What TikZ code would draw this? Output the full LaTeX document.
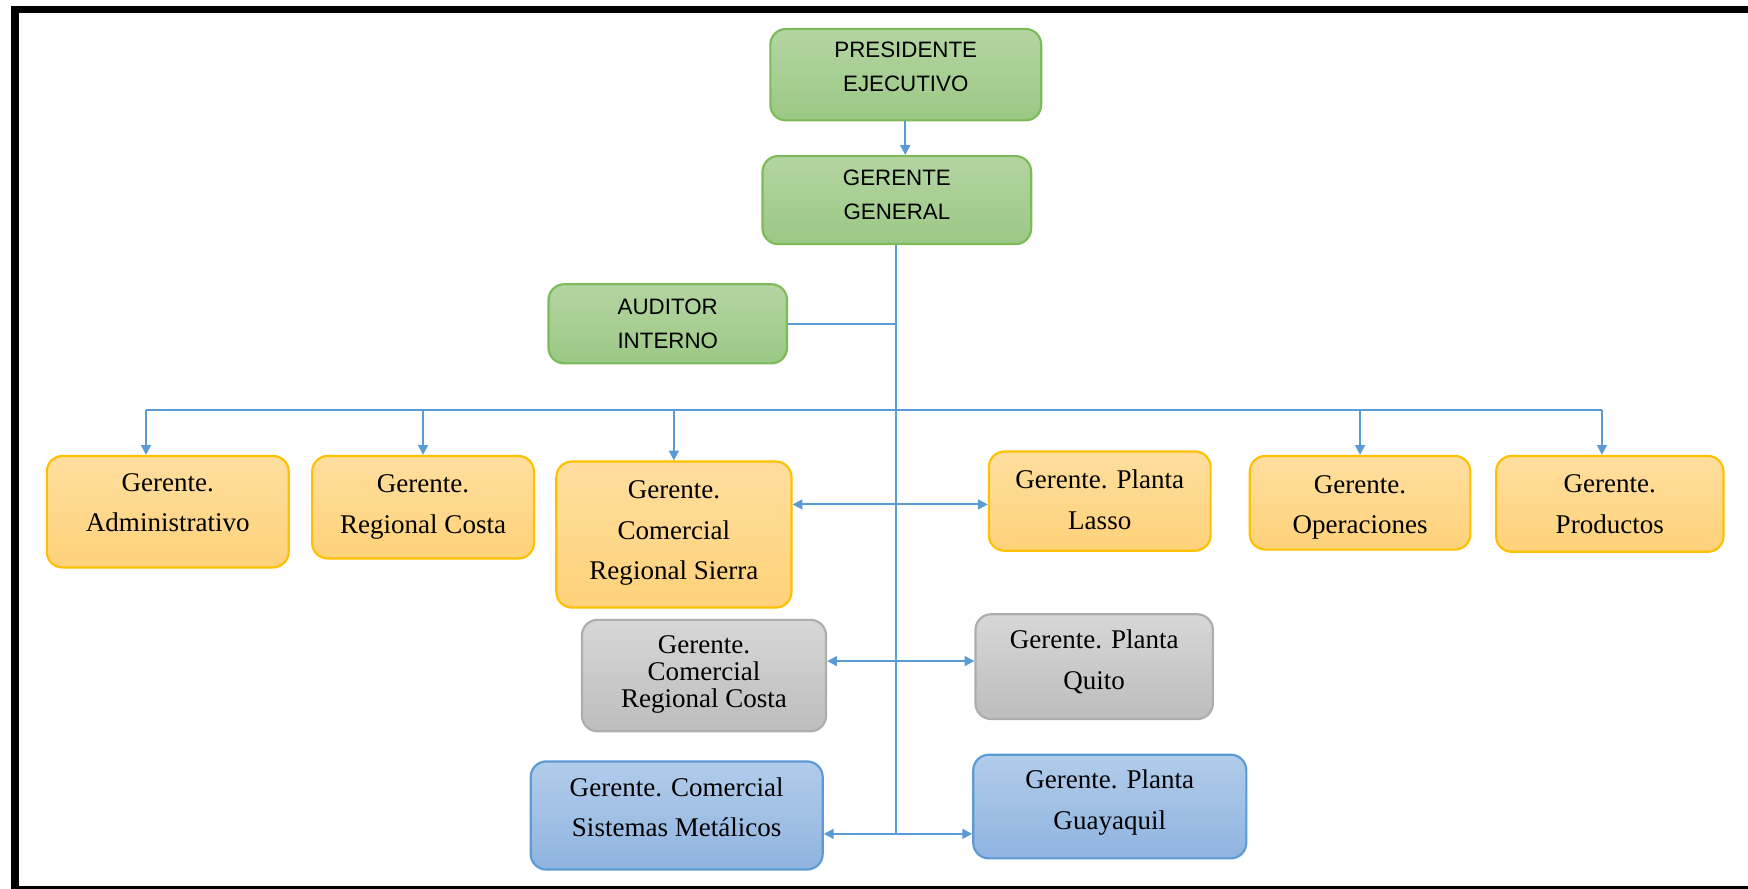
\documentclass[tikz,border=0pt]{standalone}
\usepackage{fontspec}
\setmainfont{Liberation Serif}
\newfontfamily\arialfont{Liberation Sans}
\usetikzlibrary{arrows.meta}
\newcommand{\lineas}[2][0pt]{\raisebox{#1}[0pt][0pt]{\begin{tabular}{@{}c@{}}#2\end{tabular}}}

\begin{document}
\begin{tikzpicture}[x=0.02cm,y=-0.02cm,
	caja/.style={rounded corners=0.28cm,line width=1.1pt,inner sep=0pt},
	verde/.style={caja,draw=bordeverde,top color=verdearriba,bottom color=verdeabajo,font=\arialfont\fontsize{11.4}{17.6}\selectfont},
	naranja/.style={caja,draw=bordenaranja,top color=naranjaarriba,bottom color=naranjaabajo,font=\fontsize{13.8}{20.8}\selectfont},
	gris/.style={caja,draw=bordegris,top color=grisarriba,bottom color=grisabajo,font=\fontsize{13.8}{20.8}\selectfont},
	azul/.style={caja,draw=bordeazul,top color=azularriba,bottom color=azulabajo,font=\fontsize{13.8}{20.8}\selectfont},
	linea/.style={draw=lineaazul,line width=1pt},
	flecha/.style={linea,-{Triangle[length=5pt,width=5pt]}},
	doble/.style={linea,{Triangle[length=5pt,width=5pt]}-{Triangle[length=5pt,width=5pt]}}]
					\definecolor{bordeverde}{HTML}{7DBA5A}
					\definecolor{verdearriba}{HTML}{B4D5A2}
					\definecolor{verdeabajo}{HTML}{9BC884}
					\definecolor{bordenaranja}{HTML}{FFC000}
					\definecolor{naranjaarriba}{HTML}{FFDE9E}
					\definecolor{naranjaabajo}{HTML}{FFD27A}
					\definecolor{bordegris}{HTML}{ADADAD}
					\definecolor{grisarriba}{HTML}{D7D7D7}
					\definecolor{grisabajo}{HTML}{BDBDBD}
					\definecolor{bordeazul}{HTML}{5B9BD5}
					\definecolor{azularriba}{HTML}{B2CCEA}
					\definecolor{azulabajo}{HTML}{8FB4E0}
					\definecolor{lineaazul}{HTML}{5B9BD5}
					\useasboundingbox (0,0) rectangle (1568,797);
					\draw[line width=0.14cm] (1568,8.5) -- (13.5,8.5) -- (13.5,798) -- (1568,798);
					
					\node[verde,minimum width=4.86cm,minimum height=1.64cm] (pres) at (812.5,67) {\lineas[0.85pt]{PRESIDENTE\\EJECUTIVO}};
					\node[verde,minimum width=4.82cm,minimum height=1.58cm] (gg) at (804.5,179.5) {\lineas[-0.57pt]{GERENTE\\GENERAL}};
					\node[verde,minimum width=4.28cm,minimum height=1.42cm] (aud) at (599,290.5) {\lineas[-3.1pt]{AUDITOR\\INTERNO}};
					
					\node[naranja,minimum width=4.34cm,minimum height=2cm] (admin) at (150.5,459) {\lineas[0.7pt]{Gerente.\\Administrativo}};
					\node[naranja,minimum width=3.98cm,minimum height=1.84cm] (rcosta) at (379.5,455) {\lineas[-2.36pt]{Gerente.\\Regional Costa}};
					\node[naranja,minimum width=4.22cm,minimum height=2.62cm] (sierra) at (604.5,479.5) {\lineas[-1.8pt]{Gerente.\\Comercial\\Regional Sierra}};
					\node[naranja,minimum width=3.98cm,minimum height=1.78cm] (lasso) at (986.5,449.5) {\lineas[-3.4pt]{Gerente. Planta\\Lasso}};
					\node[naranja,minimum width=3.96cm,minimum height=1.68cm] (oper) at (1220,451) {\lineas[-4.9pt]{Gerente.\\Operaciones}};
					\node[naranja,minimum width=4.08cm,minimum height=1.72cm] (prod) at (1444,452) {\lineas[-4.15pt]{Gerente.\\Productos}};
					
					\node[gris,minimum width=4.38cm,minimum height=2cm,font=\fontsize{13.8}{13.9}\selectfont] (gcosta) at (631.5,606) {\lineas[-3.2pt]{Gerente.\\Comercial\\Regional Costa}};
					\node[gris,minimum width=4.26cm,minimum height=1.88cm] (quito) at (981.5,598) {\lineas[-0.75pt]{Gerente. Planta\\Quito}};
					
					\node[azul,minimum width=5.24cm,minimum height=1.94cm] (metal) at (607,731.5) {\lineas{Gerente. Comercial\\Sistemas Metálicos}};
					\node[azul,minimum width=4.9cm,minimum height=1.86cm] (guaya) at (995.5,723.5) {\lineas[-0.5pt]{Gerente. Planta\\Guayaquil}};
					
					\coordinate (bus) at (804,368);
					\coordinate (d1) at (131,368);
					\coordinate (d5) at (1437,368);
					\coordinate (fin) at (804,748);
					
					\draw[flecha] (pres.south -| 812,0) -- (gg.north -| 812,0);
					\draw[linea] (gg.south -| bus) -- (fin);
					\draw[linea] (aud.east) -- (aud.east -| bus);
					\draw[linea] (d1) -- (d5);
					\draw[flecha] (d1) -- (d1 |- admin.north);
					\draw[flecha] (rcosta.north |- bus) -- (rcosta.north);
					\draw[flecha] (sierra.north |- bus) -- (sierra.north);
					\draw[flecha] (oper.north |- bus) -- (oper.north);
					\draw[flecha] (d5) -- (d5 |- prod.north);
					
					\draw[doble] ([yshift=-0.06cm]sierra.east |- lasso.west) -- ([yshift=-0.06cm]lasso.west);
					\draw[doble] ([yshift=0.1cm]gcosta.east |- quito.west) -- ([yshift=0.1cm]quito.west);
					\draw[doble] (metal.east |- fin) -- (guaya.west |- fin);
				\end{tikzpicture}
\end{document}
